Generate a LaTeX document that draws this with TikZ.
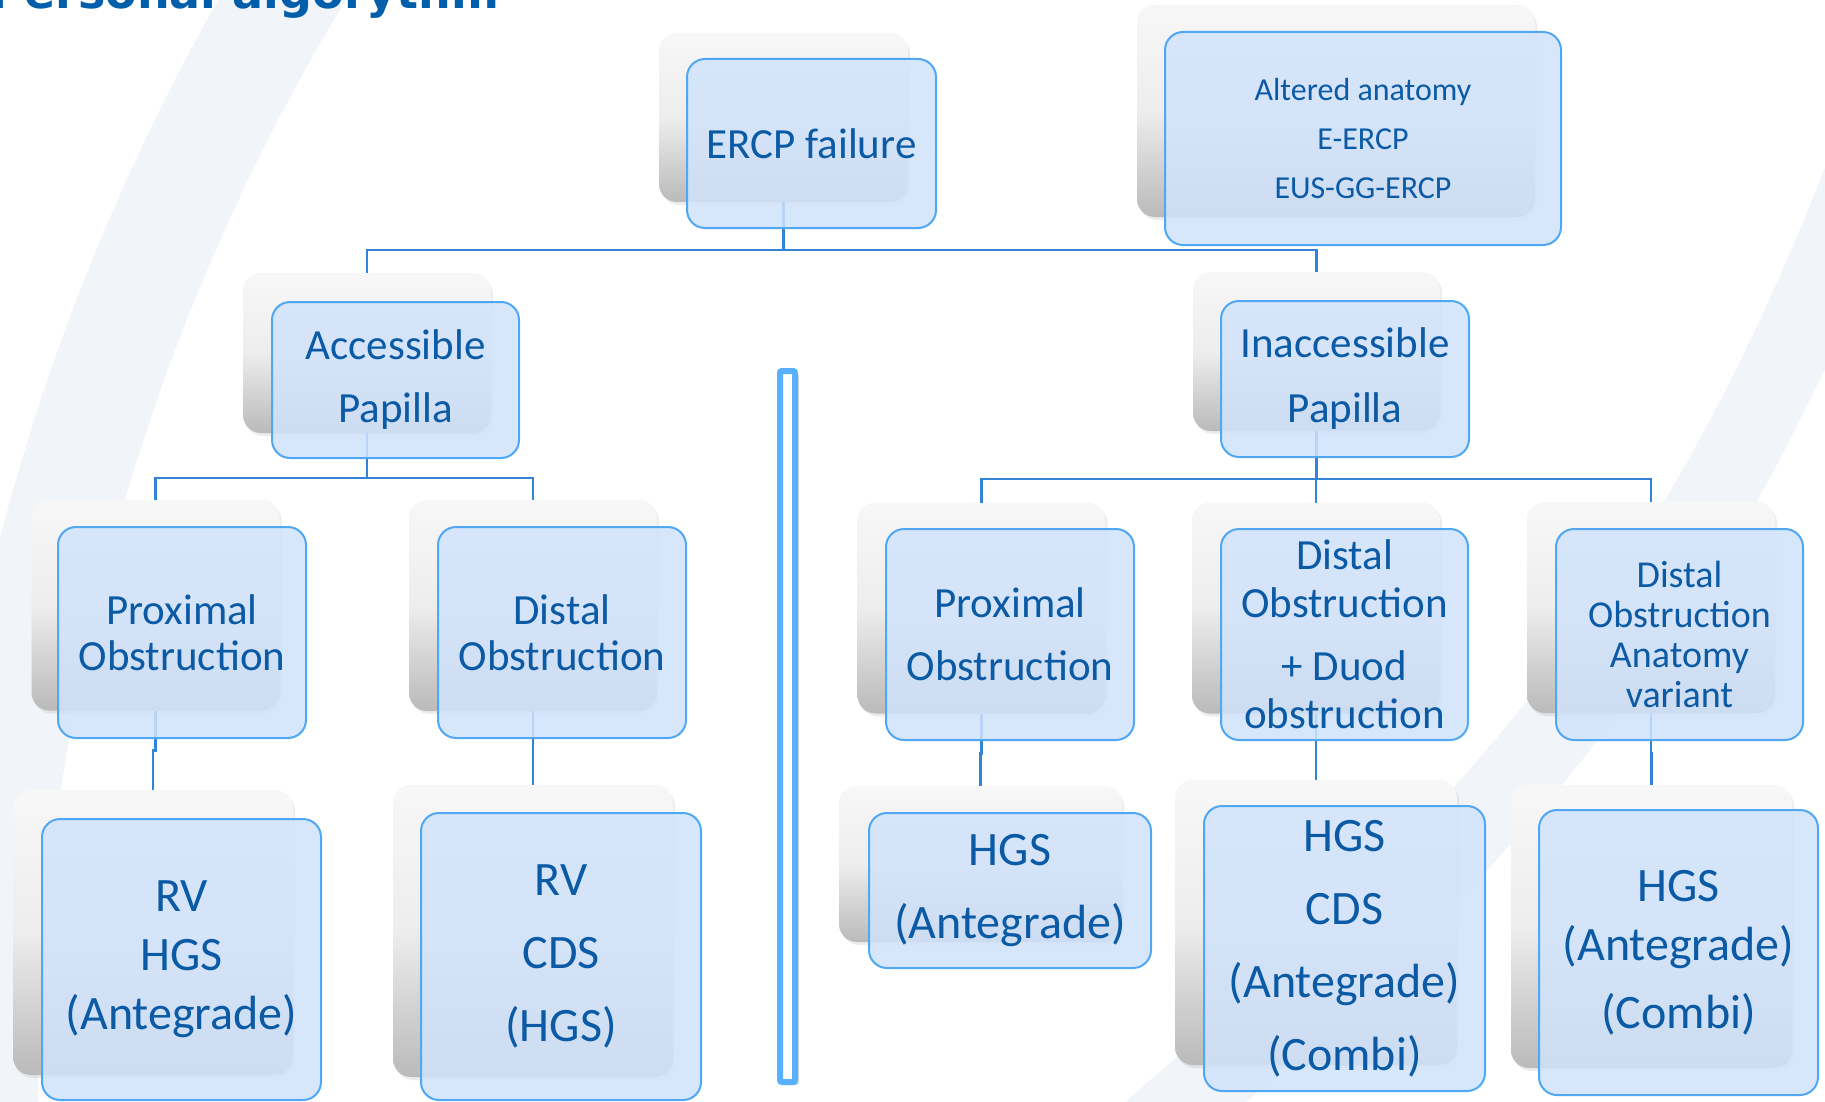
\documentclass[tikz,border=0pt]{standalone}
\usepackage{fontspec}
\setmainfont{Carlito}
\newfontfamily\titlefont{DejaVu Sans}
\usetikzlibrary{shadows}

\definecolor{boxfill}{RGB}{209,227,251}
\definecolor{boxline}{RGB}{80,168,245}
\definecolor{boxtext}{RGB}{11,90,166}
\definecolor{connline}{RGB}{50,132,214}
\definecolor{sepline}{RGB}{88,176,255}
\definecolor{bandgray}{RGB}{241,244,249}
\definecolor{titleblue}{RGB}{0,94,170}

\newcommand{\boxfont}[2]{\fontsize{#1}{#2}\selectfont}

\begin{document}
\begin{tikzpicture}[x=1pt, y=-1pt,
  wh/.style 2 args={minimum width=#1pt, minimum height=#2pt},
  card/.style={rectangle, rounded corners=18pt, inner sep=0pt, outer sep=0pt,
    top color=black!3, bottom color=black!27, middle color=black!7,
    drop shadow={shadow xshift=2pt, shadow yshift=-3pt, opacity=0.15}},
  box/.style={rectangle, rounded corners=18pt, inner sep=0pt, outer sep=0pt,
    draw=boxline, line width=2pt, fill=boxfill, fill opacity=0.85,
    text opacity=1, text=boxtext, align=center},
  conn/.style={draw=connline, line width=2.2pt},
  band/.style={draw=bandgray}]
  \useasboundingbox (0,0) rectangle (1825,1102);
  \clip (0,0) rectangle (1825,1102);
  \fill[white] (0,0) rectangle (1825,1102);
  % background arcs
  \draw[band, line width=110pt] (2158,1100) ++(175:2175) arc[start angle=175, end angle=215, radius=2175];
  \draw[band, line width=80pt] (1900,80) .. controls (1700,650) and (1450,870) .. (1120,1160);
  \node[anchor=base east, text=titleblue, font=\titlefont\bfseries\fontsize{46}{50}\selectfont] (title) at (503,9) {Personal algorythm};
  % separator
  \draw[draw=sepline, line width=6pt, fill=white, rounded corners=2pt,
    drop shadow={shadow xshift=4pt, shadow yshift=-3pt, opacity=0.3}] (780,371) rectangle (795,1082);
  % back cards
  \node[card, wh={249}{169}] (s0) at (783.5,117.5) {};
  \node[card, wh={398}{212}] (s1) at (1336,111) {};
  \node[card, wh={248}{160}] (s2) at (367,353) {};
  \node[card, wh={247}{159}] (s3) at (1316.5,351.5) {};
  \node[card, wh={248}{211}] (s4) at (155.5,605) {};
  \node[card, wh={248}{211}] (s5) at (533,605.5) {};
  \node[card, wh={248}{211}] (s6) at (981.5,608) {};
  \node[card, wh={248}{211}] (s7) at (1316,608) {};
  \node[card, wh={248}{211}] (s8) at (1651,607.5) {};
  \node[card, wh={280}{285}] (s9) at (153,932.5) {};
  \node[card, wh={280}{292}] (s10) at (533,931) {};
  \node[card, wh={283}{156}] (s11) at (980.5,864) {};
  \node[card, wh={282}{285}] (s12) at (1316,922.5) {};
  \node[card, wh={281}{283}] (s13) at (1651.5,926.5) {};
  % connectors
  \draw[conn] (s0.south) -- ++(0,48) -| (s2.north);
  \draw[conn] (s0.south) -- ++(0,48) -| (s3.north);
  \draw[conn] (s2.south) -- ++(0,45) -| (s4.north);
  \draw[conn] (s2.south) -- ++(0,45) -| (s5.north);
  \draw[conn] (s3.south) -- ++(0,48) -| (s6.north);
  \draw[conn] (s3.south) -- ++(0,48) -| (s7.north);
  \draw[conn] (s3.south) -- ++(0,48) -| (s8.north);
  \draw[conn] (s4.south) -- ++(0,40) -| (s9.north);
  \draw[conn] (s5.south) -- ++(0,40) -| (s10.north);
  \draw[conn] (s6.south) -- ++(0,40) -| (s11.north);
  \draw[conn] (s7.south) -- ++(0,40) -| (s12.north);
  \draw[conn] (s8.south) -- ++(0,40) -| (s13.north);
  % front boxes
  \node[box, wh={249}{169}, font=\boxfont{43}{52}] (0) at (811.5,143.5) {ERCP failure};
  \node[box, wh={396}{213}, font=\boxfont{32}{49}] (1) at (1363,138.5) {Altered anatomy\\E-ERCP\\EUS-GG-ERCP};
  \node[box, wh={247}{156}, font=\boxfont{43}{63}] (2) at (395.5,380) {Accessible\\Papilla};
  \node[box, wh={248}{156}, font=\boxfont{43}{65}] (3) at (1345,379) {Inaccessible\\Papilla};
  \node[box, wh={248}{211}, font=\boxfont{43}{46}] (4) at (182,632.5) {Proximal\\Obstruction};
  \node[box, wh={248}{211}, font=\boxfont{43}{46}] (5) at (562,632.5) {Distal\\Obstruction};
  \node[box, wh={248}{211}, font=\boxfont{43}{63}] (6) at (1010,634.5) {Proximal\\Obstruction};
  \node[box, wh={247}{211}, font=\boxfont{43}{48}] (7) at (1344.5,634.5) {Distal\\Obstruction\\[15pt]+ Duod\\obstruction};
  \node[box, wh={247}{211}, font=\boxfont{38}{40}] (8) at (1679.5,634.5) {Distal\\Obstruction\\Anatomy\\variant};
  \node[box, wh={279}{281}, font=\boxfont{48}{59}] (9) at (181.5,959.5) {RV\\HGS\\(Antegrade)};
  \node[box, wh={280}{287}, font=\boxfont{48}{73}] (10) at (561,956.5) {RV\\CDS\\(HGS)};
  \node[box, wh={282}{155}, font=\boxfont{48}{73}] (11) at (1010,890.5) {HGS\\(Antegrade)};
  \node[box, wh={281}{285}, font=\boxfont{48}{73}] (12) at (1344.5,948.5) {HGS\\CDS\\(Antegrade)\\(Combi)};
  \node[box, wh={279}{285}, font=\boxfont{48}{59}] (13) at (1678.5,952.5) {HGS\\(Antegrade)\\[9pt](Combi)};
\end{tikzpicture}
\end{document}
